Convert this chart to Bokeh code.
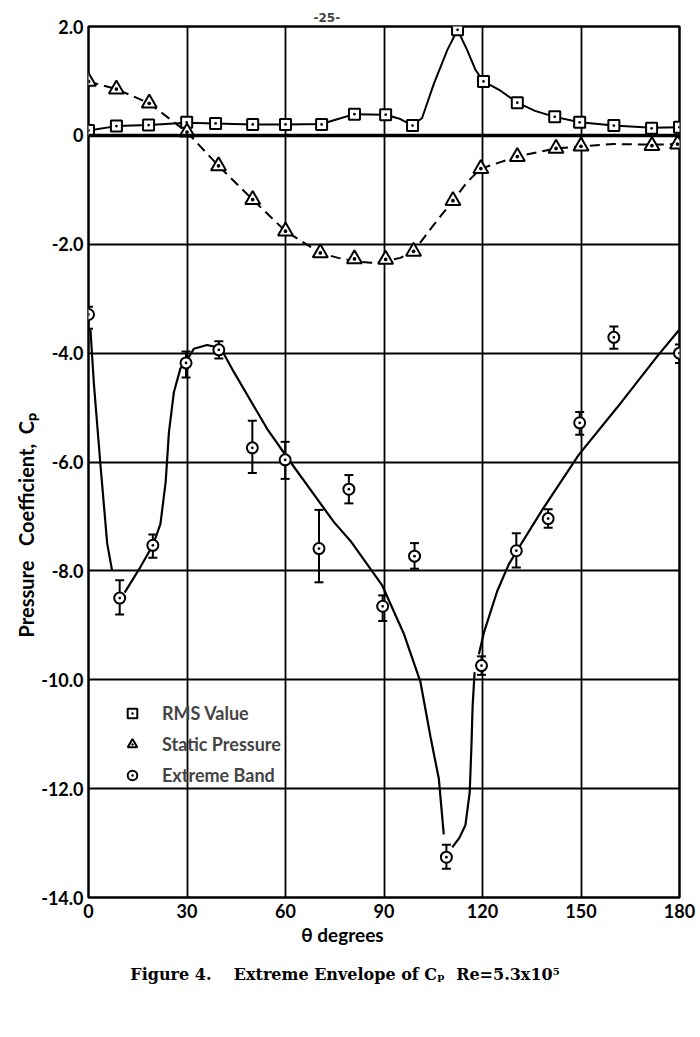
import numpy as np
from bokeh.plotting import figure
from bokeh.models import (ColumnDataSource, Whisker, TeeHead, Legend,
                          LegendItem, FixedTicker, Span, LinearAxis)
from bokeh.embed import file_html
from bokeh.resources import INLINE

# ---------------- data ----------------
x_ticks = [0, 30, 60, 90, 120, 150, 180]
y_ticks = [2, 0, -2, -4, -6, -8, -10, -12, -14]
y_tick_labels = ["2.0", "0", "-2.0", "-4.0", "-6.0", "-8.0", "-10.0", "-12.0", "-14.0"]

# RMS value (squares)
rms_theta = [0, 8.5, 18.3, 29.9, 38.7, 50, 60, 71, 81, 90.5, 98.7, 112.4, 120.3,
             130.6, 142, 149.6, 160, 171.5, 180]
rms_cp = [0.09, 0.17, 0.19, 0.24, 0.22, 0.20, 0.20, 0.20, 0.39, 0.38, 0.18, 1.94, 0.99,
          0.60, 0.34, 0.24, 0.18, 0.13, 0.15]
# RMS faired curve
rms_curve_theta = [0, 8.5, 18.3, 29.9, 38.7, 50, 60, 71, 76, 81, 90.5, 95, 98.7, 101.6,
                   105.2, 109.3, 112.4, 115.3, 117.9, 120.3, 125.5, 130.6, 136, 142,
                   149.6, 160, 171.5, 180]
rms_curve_cp = [0.09, 0.17, 0.19, 0.23, 0.22, 0.20, 0.20, 0.21, 0.30, 0.39, 0.38, 0.30,
                0.18, 0.32, 0.95, 1.57, 1.94, 1.57, 1.20, 0.99, 0.82, 0.60, 0.45, 0.34,
                0.24, 0.18, 0.14, 0.15]

# Static pressure (triangles)
static_theta = [0, 8.5, 18.5, 30, 39.6, 50, 60, 70.6, 81, 90.5, 99, 111, 119.5, 130.6,
                142.4, 150, 171.6, 179.4]
static_cp = [0.99, 0.85, 0.59, 0.06, -0.56, -1.18, -1.76, -2.16, -2.27, -2.28, -2.13,
             -1.20, -0.61, -0.39, -0.24, -0.20, -0.19, -0.16]
# Static pressure faired (dashed) curve
static_curve_theta = [0, 8.5, 18.5, 30, 39.6, 50, 60, 70.6, 76, 81, 86, 90.5, 95, 99,
                      105.2, 111, 115.3, 119.5, 125, 130.6, 136.7, 142.4, 150, 160,
                      171.6, 179.4]
static_curve_cp = [0.99, 0.85, 0.59, 0.06, -0.56, -1.18, -1.76, -2.16, -2.25, -2.31,
                   -2.34, -2.31, -2.25, -2.13, -1.64, -1.20, -0.86, -0.61, -0.50, -0.39,
                   -0.31, -0.24, -0.20, -0.16, -0.17, -0.16]

# Extreme band (circles with bars)
ext_theta = [0, 9.5, 19.6, 29.7, 39.7, 49.9, 59.9, 70.2, 79.3, 89.6, 99.3, 109, 119.7,
             130.3, 140, 149.6, 160, 180]
ext_cp = [-3.29, -8.50, -7.53, -4.18, -3.94, -5.74, -5.96, -7.59, -6.50, -8.65, -7.73,
          -13.26, -9.74, -7.63, -7.04, -5.28, -3.71, -4.00]
ext_hi = [-3.15, -8.17, -7.33, -3.97, -3.78, -5.24, -5.63, -6.88, -6.24, -8.45, -7.49,
          -13.03, -9.57, -7.31, -6.87, -5.08, -3.51, -3.84]
ext_lo = [-3.55, -8.80, -7.76, -4.45, -4.10, -6.20, -6.31, -8.21, -6.76, -8.92, -7.96,
          -13.47, -9.91, -7.94, -7.21, -5.50, -3.92, -4.18]

# Extreme envelope (solid, hand-faired pieces)
env_a_theta = [0.6, 1.6, 3.65, 5.7, 7.2]
env_a_cp = [-3.57, -4.53, -6.06, -7.50, -8.00]
env_b_theta = [11, 15.8, 19.6, 21.9, 23.5, 24.5, 26, 28, 30, 32.1, 36.1, 39.7, 41.2,
               44.3, 54.4, 61.5, 74.7, 79.8, 89.4, 96, 101.1, 104.2, 106.7, 108.2]
env_b_cp = [-8.40, -7.93, -7.53, -7.14, -6.37, -5.45, -4.72, -4.28, -4.13, -3.92, -3.85,
            -3.90, -4.01, -4.35, -5.39, -6.00, -7.10, -7.45, -8.26, -9.15, -10.04,
            -11.06, -11.82, -12.84]
env_c_theta = [110.8, 113, 114.8, 116.1, 116.6, 117, 117.6]
env_c_cp = [-13.08, -12.90, -12.67, -12.07, -11.27, -10.47, -9.86]
env_d_theta = [118.9, 120.4, 124.5, 128, 131, 138.2, 149.3, 161, 173.2, 179.8]
env_d_cp = [-9.53, -9.14, -8.37, -7.88, -7.58, -6.88, -5.87, -5.00, -4.06, -3.58]

legend_labels = ["RMS Value", "Static Pressure", "Extreme Band"]

NB = "\u00a0"
page_label = "-25-"
x_label = "\u03b8 degrees" + NB * 18
y_label = "Pressure" + NB * 3 + "Coefficient," + NB * 2 + "C\u209a" + NB * 26
caption = ("Figure 4." + NB * 4 + "Extreme Envelope of C\u209a" + NB * 2 +
           "Re=5.3x10\u2075" + NB * 14)

# ---------------- figure ----------------
FONT = "Lato"
SERIF = "DejaVu Serif"
p = figure(width=700, height=1037, x_range=(0, 180), y_range=(-14, 2),
           output_backend="svg", toolbar_location=None,
           min_border_left=88, min_border_right=21, min_border_top=26,
           min_border_bottom=140, title=page_label)
p.background_fill_color = "white"
p.border_fill_color = "white"
p.outline_line_color = "black"
p.outline_line_width = 2.5

p.title.align = "left"
p.title.offset = 225
p.title.text_font = "DejaVu Sans"
p.title.text_font_style = "bold"
p.title.text_font_size = "12px"
p.title.standoff = 10

for ax in (p.xaxis, p.yaxis):
    ax.axis_line_color = None
    ax.major_tick_line_color = None
    ax.minor_tick_line_color = None
    ax.major_tick_out = 0
    ax.major_label_text_font = FONT
    ax.major_label_text_font_style = "bold"
    ax.major_label_text_font_size = "18px"
    ax.major_label_text_color = "black"
    ax.axis_label_text_font = FONT
    ax.axis_label_text_font_style = "bold"
    ax.axis_label_text_font_size = "19px"
    ax.axis_label_text_color = "black"

p.xaxis.ticker = FixedTicker(ticks=x_ticks)
p.yaxis.ticker = FixedTicker(ticks=y_ticks)
p.xaxis.major_label_standoff = 6
p.yaxis.major_label_standoff = 5
p.yaxis.major_label_overrides = {t: s for t, s in zip(y_ticks, y_tick_labels)}
p.xaxis.axis_label = x_label
p.xaxis.axis_label_standoff = 2
p.yaxis.axis_label = y_label
p.yaxis.axis_label_text_font_size = "20px"
p.yaxis.axis_label_standoff = 0

# caption as a second (tick-less) axis below
cap_axis = LinearAxis(ticker=FixedTicker(ticks=[]), axis_label=caption,
                      axis_line_color=None, major_tick_line_color=None,
                      minor_tick_line_color=None, major_tick_out=0,
                      major_label_text_font_size="0px",
                      axis_label_text_font=SERIF, axis_label_text_font_style="bold",
                      axis_label_text_font_size="16px", axis_label_text_color="black",
                      axis_label_standoff=16)
p.add_layout(cap_axis, "below")

p.xgrid.ticker = FixedTicker(ticks=x_ticks)
p.ygrid.ticker = FixedTicker(ticks=y_ticks)
for g in (p.xgrid, p.ygrid):
    g.grid_line_color = "black"
    g.grid_line_width = 1.8
    g.grid_line_alpha = 1.0

p.add_layout(Span(location=0, dimension="width", line_color="black", line_width=3.5))

# curves
p.line(rms_curve_theta, rms_curve_cp, line_color="black", line_width=2)
p.line(static_curve_theta, static_curve_cp, line_color="black", line_width=2,
       line_dash="10 6")
p.multi_line([env_a_theta, env_b_theta, env_c_theta, env_d_theta],
             [env_a_cp, env_b_cp, env_c_cp, env_d_cp],
             line_color="black", line_width=2.2)

# error bars
src = ColumnDataSource(dict(x=ext_theta, y=ext_cp, hi=ext_hi, lo=ext_lo))
wh = Whisker(source=src, base="x", upper="hi", lower="lo", dimension="height",
             line_color="black", line_width=2, level="underlay",
             upper_head=TeeHead(size=9, line_width=2, line_color="black"),
             lower_head=TeeHead(size=9, line_width=2, line_color="black"))
p.add_layout(wh)

# markers
r_rms = p.scatter(rms_theta, rms_cp, marker="square_dot", size=11,
                  fill_color="white", line_color="black", line_width=2)
r_st = p.scatter(static_theta, static_cp, marker="triangle_dot", size=15,
                 fill_color="white", line_color="black", line_width=2)
r_ext = p.scatter("x", "y", source=src, marker="circle_dot", size=11,
                  fill_color="white", line_color="black", line_width=2)

legend = Legend(items=[LegendItem(label=legend_labels[0], renderers=[r_rms]),
                       LegendItem(label=legend_labels[1], renderers=[r_st]),
                       LegendItem(label=legend_labels[2], renderers=[r_ext])],
                location=(32, 110), orientation="vertical",
                border_line_alpha=0, background_fill_alpha=0,
                label_text_font=FONT, label_text_font_style="bold",
                label_text_font_size="18px", glyph_width=24, glyph_height=24,
                label_standoff=18, spacing=7, padding=0, margin=0,
                label_height=20)
p.add_layout(legend)

open("out.html", "w").write(file_html(p, INLINE))
